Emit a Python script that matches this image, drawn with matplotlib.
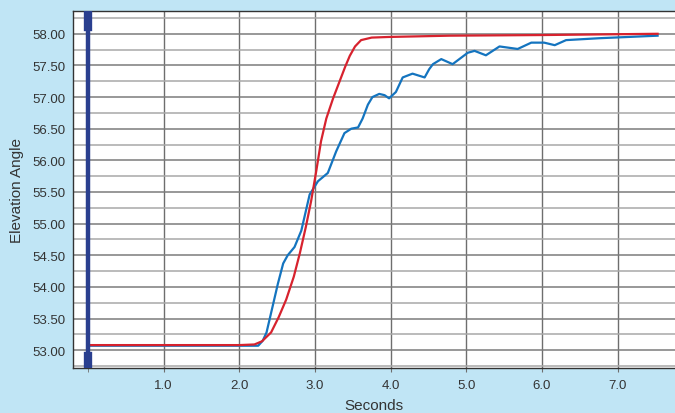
import matplotlib.pyplot as plt
import matplotlib
import numpy as np

matplotlib.rcParams['font.family'] = ['Liberation Sans', 'DejaVu Sans']

# commanded (red) and measured (blue) elevation angle
cmd_t = [0.0, 2.0, 2.2, 2.3, 2.42, 2.52, 2.62, 2.72, 2.80, 2.88, 2.95, 3.02, 3.08,
         3.15, 3.24, 3.32, 3.40, 3.46, 3.53, 3.61, 3.75, 3.98, 4.78, 6.0, 7.53]
cmd_y = [53.08, 53.08, 53.09, 53.14, 53.28, 53.52, 53.80, 54.16, 54.53, 54.95, 55.36,
         55.85, 56.30, 56.66, 56.98, 57.23, 57.48, 57.65, 57.80, 57.90, 57.94, 57.95,
         57.97, 57.98, 58.00]

meas_t = [0.0, 2.25, 2.31, 2.36, 2.44, 2.51, 2.58, 2.64, 2.73, 2.82, 2.93, 3.04, 3.12,
          3.17, 3.28, 3.39, 3.48, 3.57, 3.63, 3.70, 3.76, 3.85, 3.92, 3.98, 4.07, 4.16,
          4.29, 4.45, 4.51, 4.56, 4.67, 4.82, 5.02, 5.11, 5.26, 5.44, 5.68, 5.86, 6.03,
          6.17, 6.32, 6.76, 7.53]
meas_y = [53.07, 53.07, 53.15, 53.28, 53.69, 54.05, 54.37, 54.50, 54.63, 54.89, 55.46,
          55.67, 55.75, 55.80, 56.14, 56.43, 56.50, 56.52, 56.66, 56.88, 57.00, 57.05,
          57.03, 56.98, 57.08, 57.31, 57.37, 57.31, 57.44, 57.52, 57.60, 57.52, 57.70,
          57.73, 57.66, 57.80, 57.76, 57.86, 57.86, 57.82, 57.90, 57.93, 57.97]

x_ticks = [1.0, 2.0, 3.0, 4.0, 5.0, 6.0, 7.0]
y_ticks = [53.0, 53.5, 54.0, 54.5, 55.0, 55.5, 56.0, 56.5, 57.0, 57.5, 58.0]

BG = "#c0e5f5"

fig = plt.figure(figsize=(6.75, 4.14), dpi=100, facecolor=BG)
ax = fig.add_axes([0.108, 0.109, 0.892, 0.862])
ax.set_facecolor("white")

ax.set_xlim(-0.2, 7.76)
ax.set_ylim(52.72, 58.36)

# grid
ax.set_yticks(y_ticks)
ax.set_yticks(np.arange(52.75, 58.3, 0.5), minor=True)
ax.set_xticks(x_ticks)
ax.set_xticks([0.0], minor=True)
ax.grid(True, which="major", axis="y", color="#7c7c7c", lw=1.1)
ax.grid(True, which="minor", axis="y", color="#a8a8a8", lw=1.1)
ax.grid(True, which="both", axis="x", color="#6e6e6e", lw=1.0)
ax.set_axisbelow(True)

ax.plot(meas_t, meas_y, color="#1474bf", lw=1.6, zorder=3)
ax.plot(cmd_t, cmd_y, color="#d7222e", lw=1.6, zorder=4)

# cursor bar at t=0
ax.axvline(0.0, ymin=0.0, ymax=0.99, color="#2a3f8f", lw=3.2, zorder=5)
ax.axvline(0.0, ymin=0.955, ymax=0.99, color="#2a3f8f", lw=6, zorder=5)
ax.axvline(0.0, ymin=0.0, ymax=0.034, color="#2a3f8f", lw=6, zorder=5)

ax.set_xticklabels([f"{v:.1f}" for v in x_ticks], fontsize=9.5, color="#333333")
ax.set_yticklabels([f"{v:.2f}" for v in y_ticks], fontsize=9.5, color="#333333")
ax.tick_params(axis="y", which="both", length=0, pad=5)
ax.tick_params(axis="x", which="both", length=3, color="#6e6e6e", pad=5)

for s in ["left", "top", "bottom"]:
    ax.spines[s].set_color("#333333")
    ax.spines[s].set_linewidth(1.0)
ax.spines["right"].set_visible(False)

ax.set_xlabel("Seconds", fontsize=11, color="#333333", labelpad=5)
ax.set_ylabel("Elevation Angle", fontsize=11, color="#333333", labelpad=6)

fig.savefig("out.png", dpi=100, facecolor=BG)
